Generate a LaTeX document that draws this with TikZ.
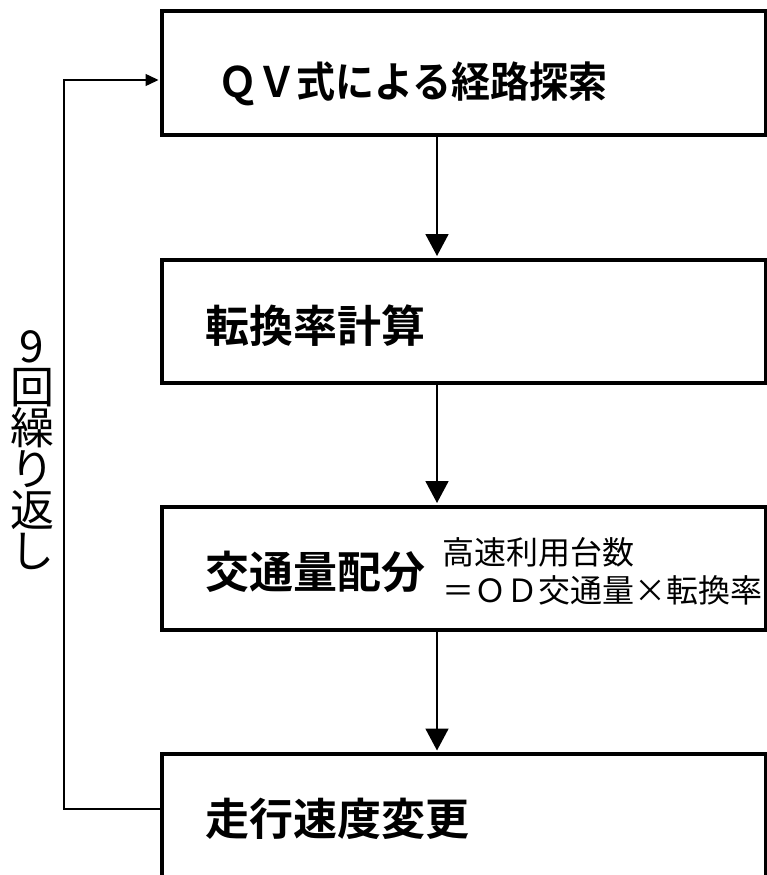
\documentclass[tikz,border=0pt]{standalone}
\usepackage{fontspec}
\newfontfamily\jp{Noto Sans CJK JP}[BoldFont={Noto Sans CJK JP Bold}]
\usetikzlibrary{arrows.meta}
\tikzset{
  stepbox/.style={draw=black, line width=4pt, fill=white, minimum width=604pt, minimum height=123pt, inner sep=0pt},
  boxtext/.style={anchor=base west, inner sep=0pt, font=\jp\bfseries\fontsize{44}{44}\selectfont},
  sidetext/.style={anchor=base west, inner sep=0pt, font=\jp\fontsize{32}{32}\selectfont},
  looptext/.style={inner sep=0pt, align=center, font=\jp\fontsize{44}{41}\selectfont},
  flow/.style={line width=1.8pt, -{Triangle[length=22pt,width=23pt]}},
  back/.style={line width=1.5pt, -{Triangle[length=13pt,width=12pt]}}
}
\begin{document}
\begin{tikzpicture}[x=1pt,y=-1pt]
\useasboundingbox (0,0) rectangle (767,875);
\fill[white] (0,0) rectangle (767,875);
\begin{scope}
\clip (0,0) rectangle (767,875);
\node[stepbox] (b1) at (463.5,73) {};
\node[stepbox] (b2) at (463.5,321) {};
\node[stepbox] (b3) at (463.5,568) {};
\node[stepbox] (b4) at (463.5,815.5) {};
\end{scope}
\node[boxtext, font=\jp\bfseries\fontsize{42}{42}\selectfont] (t1) at (218,97) {\scalebox{0.93}[1]{ＱＶ式による経路探索}};
\node[boxtext] (t2) at (205,342) {転換率計算};
\node[boxtext] (t3) at (205,588) {交通量配分};
\node[boxtext] (t4) at (205,835) {走行速度変更};
\node[sidetext] (s1) at (442,564) {高速利用台数};
\node[sidetext] (s2) at (442,602) {＝ＯＤ交通量×転換率};
\node[looptext] (rep) at (32,450) {9\\回\\繰\\り\\返\\し};
\coordinate (ax) at (437,0);
\draw[flow, shorten >=1.5pt] (b1.south -| ax) -- (b2.north -| ax);
\draw[flow, shorten >=1.5pt] (b2.south -| ax) -- (b3.north -| ax);
\draw[flow, shorten >=1.5pt] (b3.south -| ax) -- (b4.north -| ax);
\coordinate (lb) at (64,809);
\coordinate (lt) at (64,80);
\draw[back, shorten >=1pt] (lb -| b4.west) -- (lb) -- (lt) -- (lt -| b1.west);
\end{tikzpicture}
\end{document}
